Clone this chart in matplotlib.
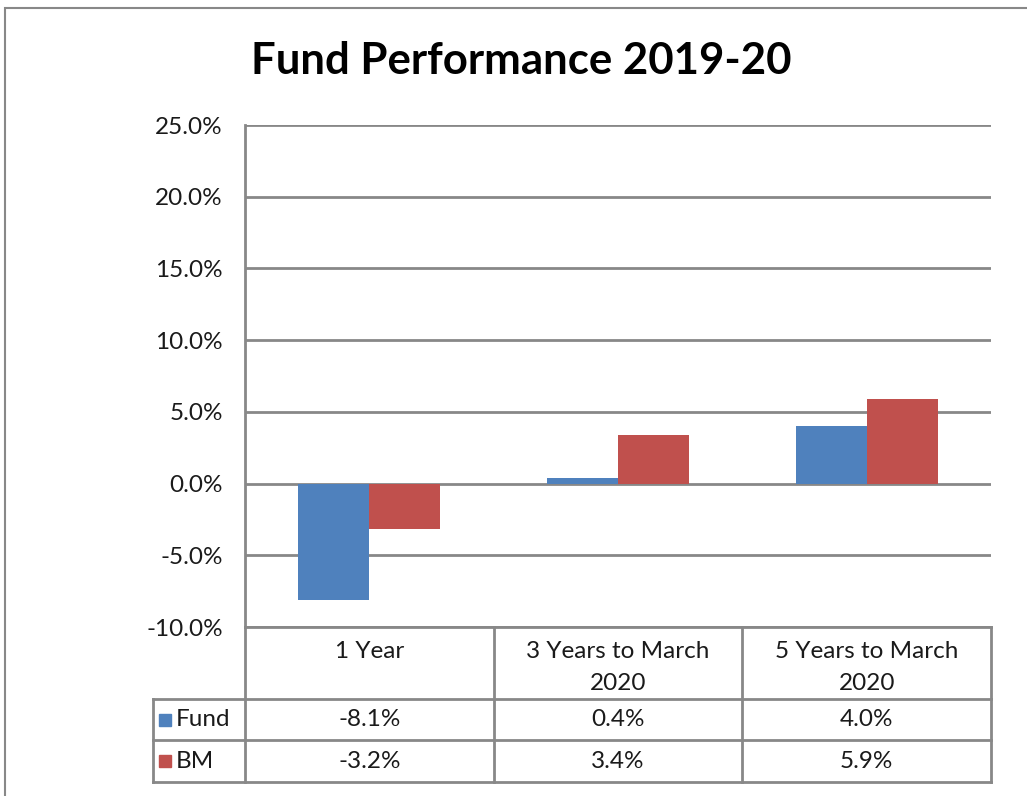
import matplotlib
matplotlib.use("Agg")
import matplotlib.pyplot as plt
import matplotlib.transforms as mtransforms
from matplotlib.lines import Line2D
from matplotlib.patches import Rectangle
from matplotlib.ticker import FuncFormatter

# data
categories = ["1 Year", "3 Years to March\n2020", "5 Years to March\n2020"]
series_names = ["Fund", "BM"]
fund = [-8.1, 0.4, 4.0]
bm = [-3.2, 3.4, 5.9]
colors = ["#4F81BD", "#C0504D"]

W, H = 1027, 796
plt.rcParams['font.family'] = ['Lato', 'DejaVu Sans']
grid_c = "#888888"
txt_c = "#1a1a1a"
fs = 17.5

fig = plt.figure(figsize=(W / 100, H / 100), dpi=100)
ax = fig.add_axes([245 / W, 1 - 627 / H, (991 - 245) / W, (627 - 125) / H])

# outer chart border
fig.add_artist(Rectangle((5 / W, -0.1), 1.2, 1 - 8 / H + 0.1, transform=fig.transFigure,
                         fill=False, edgecolor=grid_c, lw=1.5))

x = range(len(categories))
bw = 0.285
ax.bar([i - bw / 2 for i in x], fund, bw, color=colors[0], zorder=3)
ax.bar([i + bw / 2 for i in x], bm, bw, color=colors[1], zorder=3)

ax.set_xlim(-0.5, len(categories) - 0.5)
ax.set_ylim(-10, 25)
ax.set_yticks(range(-10, 26, 5))
ax.yaxis.set_major_formatter(FuncFormatter(lambda v, p: f"{v:.1f}%"))
ax.tick_params(axis='y', length=0, pad=16, labelsize=fs, labelcolor=txt_c)
ax.set_xticks([])
ax.grid(axis='y', color=grid_c, lw=2, zorder=0)
for s in ["top", "right", "bottom"]:
    ax.spines[s].set_visible(False)
ax.spines["left"].set_color(grid_c)
ax.spines["left"].set_linewidth(2)

fig.suptitle("Fund Performance 2019-20", x=521 / W, y=1 - 61 / H, va='center',
             fontsize=31.5, fontweight='bold')

# data table under the plot
tr = mtransforms.blended_transform_factory(ax.transData, fig.transFigure)
def fy(py):
    return 1 - py / H

leg_left = -0.5 - (245 - 153) / 249
rows_y = [627, 699, 740, 782]
xr = len(categories) - 0.5

def hline(x0, x1, py):
    fig.add_artist(Line2D([x0, x1], [fy(py), fy(py)], transform=tr, color=grid_c, lw=2))

def vline(xx, p0, p1):
    fig.add_artist(Line2D([xx, xx], [fy(p0), fy(p1)], transform=tr, color=grid_c, lw=2))

hline(-0.5, xr, rows_y[0])
for py in rows_y[1:]:
    hline(leg_left, xr, py)
for b in [i - 0.5 for i in range(len(categories) + 1)]:
    vline(b, rows_y[0], rows_y[-1])
vline(leg_left, rows_y[1], rows_y[-1])

for i, c in enumerate(categories):
    fig.text(i, fy(641), c, transform=tr, ha='center', va='top',
             fontsize=fs, linespacing=1.65, color=txt_c)

for r, (name, vals) in enumerate(zip(series_names, [fund, bm])):
    yc = (rows_y[r + 1] + rows_y[r + 2]) / 2
    for i, v in enumerate(vals):
        fig.text(i, fy(yc), f"{v:.1f}%", transform=tr, ha='center', va='center',
                 fontsize=fs, color=txt_c)
    fig.add_artist(Rectangle((159 / W, fy(yc + 6)), 12 / W, 12 / H,
                             transform=fig.transFigure, color=colors[r]))
    fig.text(176 / W, fy(yc), name, ha='left', va='center', fontsize=fs, color=txt_c)

fig.savefig("out.png", dpi=100)
